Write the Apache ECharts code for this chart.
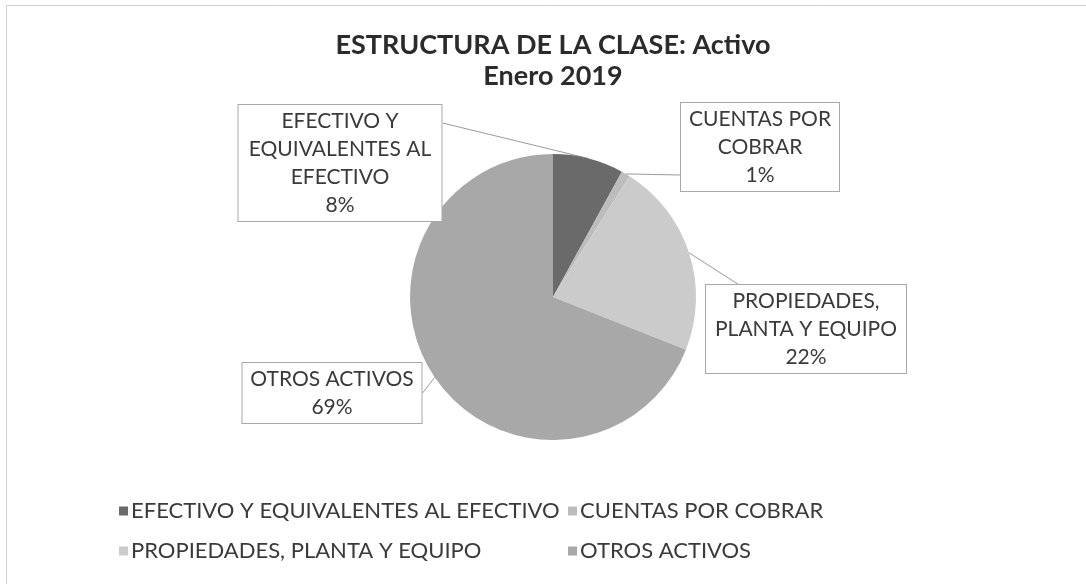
<!DOCTYPE html>
<html><head><meta charset="utf-8">
<script src="https://cdn.jsdelivr.net/npm/echarts@6/dist/echarts.min.js"></script>
<style>html,body{margin:0;padding:0;background:#fff}#c{width:1086px;height:584px}</style>
</head><body><div id="c"></div>
<script>
const categories = ['EFECTIVO Y EQUIVALENTES AL EFECTIVO', 'CUENTAS POR COBRAR', 'PROPIEDADES, PLANTA Y EQUIPO', 'OTROS ACTIVOS'];
const labelTexts = ['EFECTIVO Y\nEQUIVALENTES AL\nEFECTIVO', 'CUENTAS POR\nCOBRAR', 'PROPIEDADES,\nPLANTA Y EQUIPO', 'OTROS ACTIVOS'];
const shares = [8, 1, 22, 69];
const titleLines = ['ESTRUCTURA DE LA CLASE: Activo', 'Enero 2019'];

const sliceColors = ['#6a6a6a', '#bcbcbc', '#cbcbcb', '#a8a8a8'];
const FONT = 'Lato, "Open Sans", sans-serif';

const chart = echarts.init(document.getElementById('c'), null, {renderer: 'canvas'});
// label box layout: [centerX, top, boxWidth, leader end (fraction of width from centre), leader end (offset from top)]
const labelBoxes = [
  [340, 105, 205, 0.5, 18],
  [760, 103, 160, -0.5, 72],
  [806, 285, 202, -0.33, 0],
  [332, 363, 181, 0.5, 30]
];

chart.setOption({
  backgroundColor: '#ffffff',
  animation: false,
  color: sliceColors,
  graphic: [{
    type: 'rect', silent: true,
    shape: {x: 6.5, y: 5.5, width: 1200, height: 700},
    style: {fill: 'none', stroke: '#d0d0d0', lineWidth: 1}
  }],
  title: {
    text: titleLines.join('\n'),
    left: 548, top: 25, textAlign: 'center',
    textStyle: {fontFamily: FONT, fontWeight: 'bold', fontSize: 27, lineHeight: 31, color: '#2b2b2b'}
  },
  legend: [{
    data: [categories[0], categories[2]],
    orient: 'vertical', left: 114, top: 495,
    icon: 'rect', itemWidth: 9, itemHeight: 9, itemGap: 18,
    textStyle: {fontFamily: FONT, fontSize: 22, lineHeight: 22, color: '#3a3a3a', padding: [0, 0, 0, -2]}
  }, {
    data: [categories[1], categories[3]],
    orient: 'vertical', left: 563, top: 495,
    icon: 'rect', itemWidth: 9, itemHeight: 9, itemGap: 18,
    textStyle: {fontFamily: FONT, fontSize: 22, lineHeight: 22, color: '#3a3a3a', padding: [0, 0, 0, -2]}
  }],
  series: [{
    type: 'pie',
    center: [553, 297],
    radius: 143,
    startAngle: 90,
    clockwise: true,
    percentPrecision: 0,
    avoidLabelOverlap: false,
    data: categories.map((c, i) => ({
      name: c, value: shares[i],
      label: {width: labelBoxes[i][2] - 2}
    })),
    label: {
      show: true,
      formatter: p => labelTexts[p.dataIndex] + '\n' + p.percent + '%',
      fontFamily: FONT, fontSize: 21, lineHeight: 28, color: '#3a3a3a',
      align: 'center', overflow: 'none',
      backgroundColor: '#ffffff', borderColor: '#a8a8a8', borderWidth: 1,
      padding: [2, 0]
    },
    labelLine: {show: true, length: 10, length2: 10, lineStyle: {color: '#9a9a9a', width: 1}},
    labelLayout: function (params) {
      const b = labelBoxes[params.dataIndex];
      const out = {x: b[0], y: b[1], align: 'center', verticalAlign: 'top', hideOverlap: false, moveOverlap: false};
      const pts = params.labelLinePoints;
      if (pts && pts.length) {
        const s = pts[0];
        const e = [b[0] + b[3] * b[2], b[1] + b[4]];
        out.labelLinePoints = [s, [(s[0] + e[0]) / 2, (s[1] + e[1]) / 2], e];
      }
      return out;
    },
    itemStyle: {borderWidth: 0},
    emphasis: {disabled: true}
  }]
});
</script></body></html>
